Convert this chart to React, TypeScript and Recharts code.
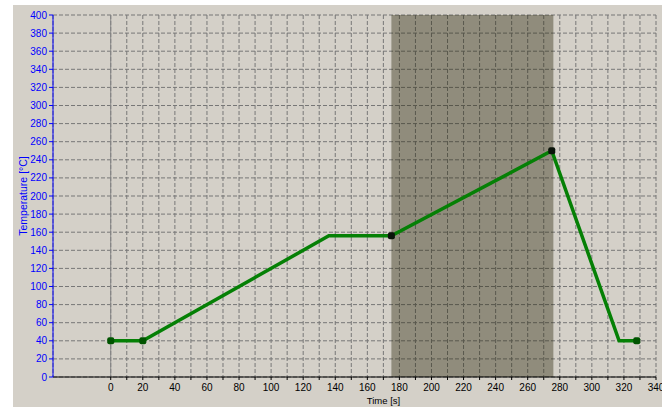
import React from 'react';
import {
  ComposedChart,
  Line,
  Scatter,
  XAxis,
  YAxis,
  CartesianGrid,
  ReferenceArea,
  ReferenceLine,
  Label,
} from 'recharts';

// Temperature profile (time in s, temperature in °C)
const profileTimes = [0, 20, 136, 175, 275, 317, 328];
const profileTemps = [40, 40, 156, 156, 250, 40, 40];

// Set points marked on the profile
const stepTimes = [0, 20, 328];
const stepTemps = [40, 40, 40];

// Boundaries of the selected segment
const selectedTimes = [175, 275];
const selectedTemps = [156, 250];

// Highlighted (selected) time window
const windowStart = 175;
const windowEnd = 276;

const xTicks = [0, 10, 20, 30, 40, 50, 60, 70, 80, 90, 100, 110, 120, 130, 140, 150, 160, 170, 180, 190, 200, 210, 220, 230, 240, 250, 260, 270, 280, 290, 300, 310, 320, 330, 340];
const xLabelTicks = [0, 20, 40, 60, 80, 100, 120, 140, 160, 180, 200, 220, 240, 260, 280, 300, 320, 340];
const yTicks = [0, 20, 40, 60, 80, 100, 120, 140, 160, 180, 200, 220, 240, 260, 280, 300, 320, 340, 360, 380, 400];

const profileData = profileTimes.map((t, i) => ({ t, temp: profileTemps[i] }));
const stepData = stepTimes.map((t, i) => ({ t, temp: stepTemps[i] }));
const selectedData = selectedTimes.map((t, i) => ({ t, temp: selectedTemps[i] }));

const FONT = '"Liberation Sans", Arial, sans-serif';

const makeMarker = (color: string) => (props: any) => {
  const { cx, cy } = props;
  if (cx == null || cy == null) return <g />;
  return <rect x={cx - 3.5} y={cy - 3.5} width={7} height={7} rx={2} fill={color} />;
};

export default function App() {
  return (
    <div style={{ position: 'absolute', left: 0, top: 0, width: 667, height: 407, background: '#ffffff' }}>
      <div
        style={{
          position: 'absolute',
          left: 13,
          top: 5,
          width: 649,
          height: 402,
          background: '#d4d0c8',
          overflow: 'hidden',
        }}
      >
        <div style={{ position: 'absolute', left: -13, top: -5 }}>
          <ComposedChart
            width={667}
            height={407}
            data={profileData}
            margin={{ top: 15, right: 11, left: 13, bottom: 0 }}
          >
            <CartesianGrid stroke="#777777" strokeDasharray="4 2" />
            <ReferenceArea
              x1={windowStart}
              x2={windowEnd}
              y1={0}
              y2={400}
              fill="#2e2c12"
              fillOpacity={0.41}
              stroke="none"
              ifOverflow="hidden"
            />
            <ReferenceLine x={0} stroke="#868686" strokeWidth={1} />
            <XAxis
              dataKey="t"
              type="number"
              domain={[-36, 340]}
              ticks={xTicks}
              tickFormatter={(v: number) => (xLabelTicks.includes(v) ? String(v) : '')}
              interval={0}
              allowDataOverflow
              height={30}
              stroke="#000000"
              tickLine={{ stroke: '#000000' }}
              tickSize={3}
              tickMargin={4}
              tick={{ fill: '#000000', fontSize: 10, fontFamily: FONT }}
            >
              <Label
                content={(p: any) => {
                  const vb = p.viewBox || {};
                  return (
                    <text
                      x={vb.x + vb.width * 0.5 + 29}
                      y={vb.y + 27}
                      textAnchor="middle"
                      fill="#000000"
                      fontSize={9.5}
                      fontFamily={FONT}
                    >
                      Time [s]
                    </text>
                  );
                }}
              />
            </XAxis>
            <YAxis
              dataKey="temp"
              type="number"
              domain={[0, 400]}
              ticks={yTicks}
              interval={0}
              width={40}
              stroke="#0000ff"
              tickLine={{ stroke: '#0000ff' }}
              tickSize={4}
              tickMargin={2}
              tick={{ fill: '#0000ff', fontSize: 10, fontFamily: FONT }}
            >
              <Label
                content={(p: any) => {
                  const vb = p.viewBox || {};
                  const x = vb.x + 10;
                  const y = vb.y + vb.height / 2;
                  return (
                    <text
                      x={x}
                      y={y}
                      transform={`rotate(-90, ${x}, ${y})`}
                      textAnchor="middle"
                      dominantBaseline="central"
                      fill="#0000ff"
                      fontSize={10.5}
                      fontFamily={FONT}
                    >
                      Temperature [°C]
                    </text>
                  );
                }}
              />
            </YAxis>
            <Line
              dataKey="temp"
              type="linear"
              stroke="#058005"
              strokeWidth={3.5}
              dot={false}
              activeDot={false}
              isAnimationActive={false}
            />
            <Scatter data={stepData} dataKey="temp" shape={makeMarker('#005400')} isAnimationActive={false} />
            <Scatter data={selectedData} dataKey="temp" shape={makeMarker('#0a140a')} isAnimationActive={false} />
          </ComposedChart>
        </div>
      </div>
    </div>
  );
}
